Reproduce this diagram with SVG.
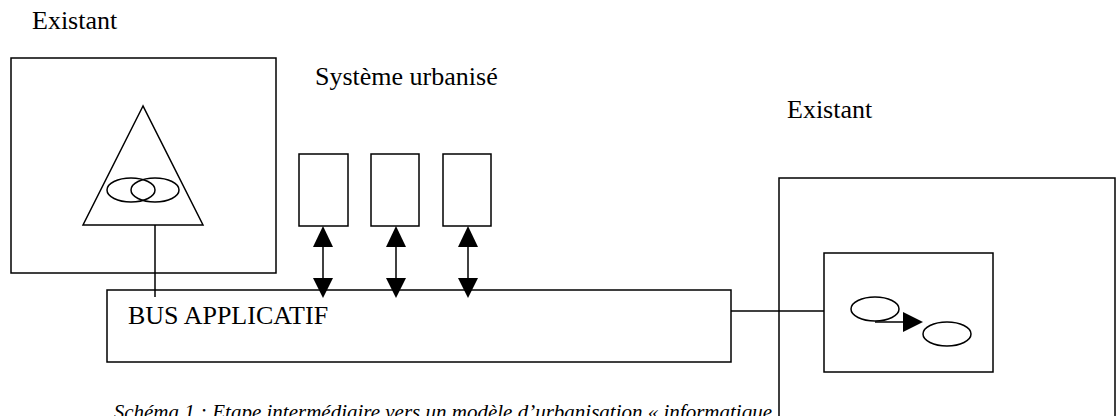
<svg xmlns="http://www.w3.org/2000/svg" width="1118" height="416" viewBox="0 0 1118 416">
<style>
.s{fill:#fff;stroke:#000;stroke-width:1.5}
.n{fill:none;stroke:#000;stroke-width:1.5}
.h{fill:#000;stroke:none}
.t{font-family:"Liberation Serif","Times New Roman",serif;font-size:26px;fill:#000}
.c{font-family:"Liberation Serif","Times New Roman",serif;font-size:21px;font-style:italic;fill:#000}
</style>
<rect width="1118" height="416" fill="#fff"/>
<text class="t" x="32" y="29">Existant</text>
<text class="t" x="315" y="85">Système urbanisé</text>
<text class="t" x="787" y="118">Existant</text>
<g id="existant-gauche">
<rect class="s" x="11" y="58" width="265" height="215"/>
<polygon class="s" points="143,106 83,225 203,225"/>
<ellipse class="n" cx="131" cy="190" rx="24" ry="12"/>
<ellipse class="n" cx="155" cy="190" rx="24" ry="12"/>
</g>
<g id="existant-droite">
<rect class="s" x="779" y="178" width="336" height="260"/>
<rect class="s" x="824" y="253" width="169" height="119"/>
<ellipse class="n" cx="875" cy="309" rx="24" ry="12"/>
<ellipse class="n" cx="947" cy="334" rx="24" ry="12"/>
<line class="n" x1="875" y1="322" x2="904" y2="322"/>
<polygon class="h" points="903,312 923,322 903,332"/>
</g>
<g id="systeme-1"><rect class="s" x="299" y="154" width="49" height="72"/></g>
<g id="systeme-2"><rect class="s" x="371" y="154" width="48" height="72"/></g>
<g id="systeme-3"><rect class="s" x="443" y="154" width="48" height="72"/></g>
<g id="bus">
<rect class="s" x="107" y="290" width="624" height="72"/>
<text class="t" x="128" y="324">BUS APPLICATIF</text>
</g>
<g id="connecteurs">
<line class="n" x1="155" y1="225" x2="155" y2="297"/>
<line class="n" x1="731" y1="311" x2="824" y2="311"/>
<line class="n" x1="323" y1="240" x2="323" y2="285"/>
<polygon class="h" points="323,226 313,247 333,247"/>
<polygon class="h" points="313,278 333,278 323,298"/>
<line class="n" x1="396" y1="240" x2="396" y2="285"/>
<polygon class="h" points="396,226 386,247 406,247"/>
<polygon class="h" points="386,278 406,278 396,298"/>
<line class="n" x1="468" y1="240" x2="468" y2="285"/>
<polygon class="h" points="468,226 458,247 478,247"/>
<polygon class="h" points="458,278 478,278 468,298"/>
</g>
<text class="c" x="772" y="419" text-anchor="end">Schéma 1 : Etape intermédiaire vers un modèle d’urbanisation « informatique</text>
</svg>
